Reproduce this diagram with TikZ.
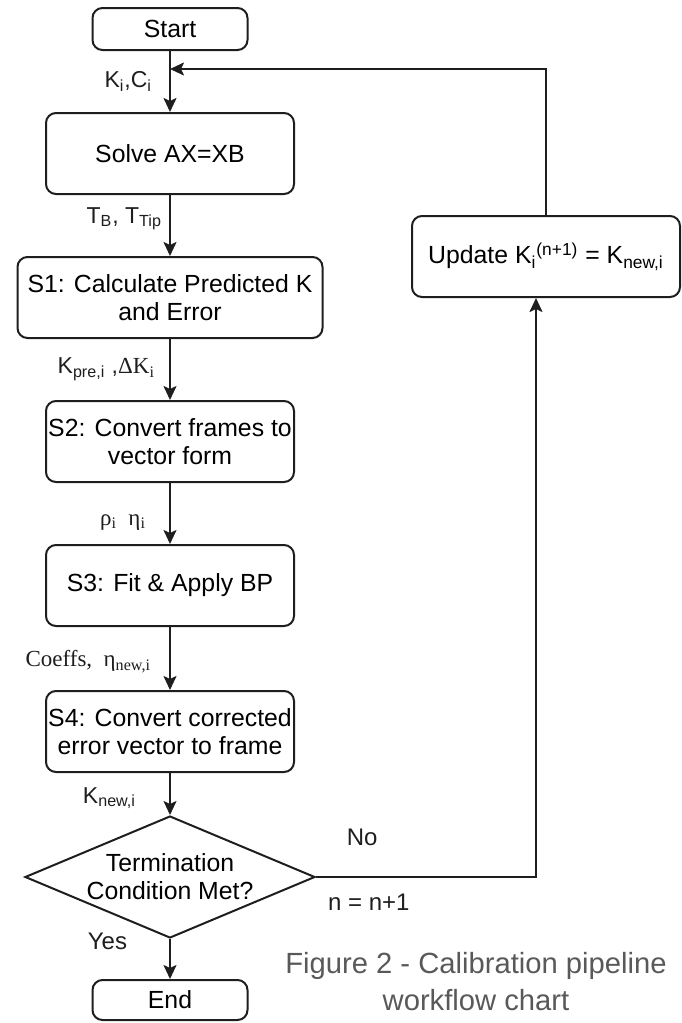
\documentclass[tikz,border=0pt]{standalone}
\usepackage{fontspec}
\setmainfont{Liberation Sans}
\newfontfamily\serifmath{Liberation Serif}
\usetikzlibrary{arrows.meta,positioning,shapes.geometric}
\definecolor{cline}{HTML}{1E1E1E}
\definecolor{ccap}{HTML}{595959}

\begin{document}
\begin{tikzpicture}[node distance=30.5pt,every node/.style={font=\fontsize{12.4}{14}\selectfont,align=center},box/.style={draw=cline,line width=1pt,rounded corners=5pt,minimum width=124pt,minimum height=40.5pt,inner sep=1pt},endbox/.style={box,minimum width=77.5pt,minimum height=21pt},decision/.style={diamond,draw=cline,line width=1pt,aspect=2.36,inner sep=0pt,minimum width=145pt,minimum height=61pt},lbl/.style={font=\fontsize{11.5}{13}\selectfont,inner sep=0pt},arr/.style={-{Stealth[length=7pt,width=6.5pt,inset=1.5pt]},cline,line width=1pt}]
\useasboundingbox (0,0) rectangle (340.5pt,-511.5pt);
\node[endbox] (start) at (85pt,-14.5pt) {Start};
\node[box,below=of start] (solve) {Solve AX=XB};
\node[box,minimum width=152.5pt,below=of solve] (s1) {S1: Calculate Predicted K\\and Error};
\node[box,below=of s1] (s2) {S2: Convert frames to\\vector form};
\node[box,below=of s2] (s3) {S3: Fit \& Apply BP};
\node[box,below=31.5pt of s3] (s4) {S4: Convert corrected\\error vector to frame};
\node[decision,below=21pt of s4] (check) {Termination\\Condition Met?};
\node[endbox,minimum height=20pt,below=20pt of check] (stop) {End};
\node[box,minimum width=134pt] (update) at (273pt,-128.25pt) {Update K\textsubscript{i}\textsuperscript{(n+1)} = K\textsubscript{new,i}};
\node[font=\fontsize{14.6}{18.5}\selectfont,text=ccap] (caption) at (238pt,-490.75pt) {Figure 2 - Calibration pipeline\\workflow chart};
\coordinate (loopin) at ([yshift=-9pt]start.south);
\draw[arr] (start) -- node[lbl,left=8.5pt] {K\textsubscript{i},C\textsubscript{i}} (solve);
\draw[arr] (solve) -- node[lbl,pos=0.39,left=3.5pt] {T\textsubscript{B}, T\textsubscript{Tip}} (s1);
\draw[arr] (s1) -- node[lbl,left=7pt] {K\textsubscript{pre,i} ,{\serifmath ΔK\textsubscript{i}}} (s2);
\draw[arr] (s2) -- node[lbl,pos=0.64,left=11.5pt] {\serifmath ρ\textsubscript{i}\enspace η\textsubscript{i}} (s3);
\draw[arr] (s3) -- node[lbl,pos=0.55,left=9pt] {\serifmath Coeffs,\enspace η\textsubscript{new,i}} (s4);
\draw[arr] (s4) -- node[lbl,pos=0.6,left=16.5pt] {K\textsubscript{new,i}} (check);
\draw[arr] (check) -- node[lbl,font=\fontsize{12}{14}\selectfont,pos=0.07,left=21pt] {Yes} (stop);
\draw[arr] (check.east) -| node[lbl,font=\fontsize{12}{14}\selectfont,pos=0.105,above=15pt] {No} node[lbl,font=\fontsize{12}{14}\selectfont,pos=0.12,below=8pt] {n = n+1} ([xshift=-5pt]update.south);
\draw[arr] (update) |- (loopin);
\end{tikzpicture}
\end{document}
